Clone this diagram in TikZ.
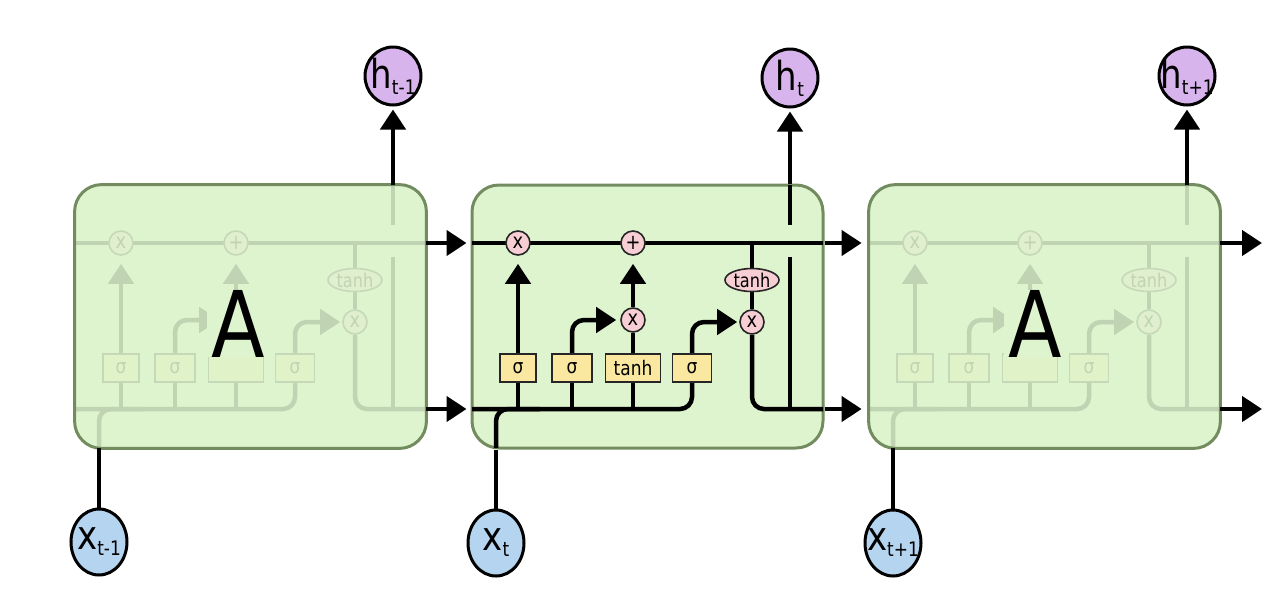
\documentclass[tikz,border=0pt]{standalone}
\usepackage{fontspec}
\setmainfont{DejaVu Sans}[FakeStretch=0.85]
\usetikzlibrary{arrows.meta,shapes.geometric}
\definecolor{cellgreen}{RGB}{221,244,206}
\definecolor{cellborder}{RGB}{115,140,95}
\definecolor{pinkop}{RGB}{247,206,211}
\definecolor{gateyellow}{RGB}{250,232,160}
\definecolor{hpurple}{RGB}{215,180,235}
\definecolor{xblue}{RGB}{180,212,240}
\pgfdeclarelayer{cellbg}
\pgfdeclarelayer{lines}
\pgfdeclarelayer{veil}
\pgfdeclarelayer{front}
\pgfsetlayers{cellbg,lines,main,veil,front}
\newcommand{\lowsub}[1]{{\fontsize{10}{10}\selectfont\raisebox{-3pt}{#1}}}
\tikzset{
  ln/.style={line width=2.25pt},
  arr/.style={-{Triangle[length=10pt,width=12.5pt]}},
  pw/.style={circle, draw=black!85, line width=0.8pt, fill=pinkop, minimum size=12pt, inner sep=0pt, font=\fontsize{10.5}{10}\selectfont},
  pwell/.style={ellipse, draw=black!85, line width=0.8pt, fill=pinkop, minimum width=27pt, minimum height=11.5pt, inner sep=0pt, font=\fontsize{9.5}{10}\selectfont},
  gate/.style={rectangle, draw=black!85, line width=0.8pt, fill=gateyellow, minimum height=14pt, inner sep=0pt, font=\fontsize{10}{10}\selectfont},
  cellbox/.style={rectangle, rounded corners=13.5pt, minimum width=175.5pt, minimum height=131.5pt, inner sep=0pt},
  hnode/.style={ellipse, draw=black, line width=1.5pt, fill=hpurple, minimum width=28pt, minimum height=29pt, inner sep=0pt, font=\fontsize{20}{20}\selectfont},
  xnode/.style={ellipse, draw=black, line width=1.5pt, fill=xblue, minimum width=28pt, minimum height=33pt, inner sep=0pt, font=\fontsize{20}{20}\selectfont},
  bigA/.style={font=\fontsize{46}{46}\selectfont, fill=cellgreen, inner ysep=0pt, inner xsep=2pt, text height=33.5pt, text depth=0pt},
}
% #1 shift, #2 prefix, #3 text of tanh gate, #4 text of input multiply
\newcommand{\lstmcell}[4]{%
\begin{scope}[shift={(#1,0)}]
  \node[pw] (#2f) at (518,243) {\makebox[0pt]{x}};
  \node[pw] (#2a) at (633,243) {\makebox[0pt]{+}};
  \node[pw] (#2i) at (633,320) {\makebox[0pt]{#4}};
  \node[pwell] (#2t) at (752,280) {\makebox[0pt]{tanh}};
  \node[pw] (#2o) at (752,322) {\makebox[0pt]{x}};
  \node[gate, minimum width=18pt] (#2g1) at (518,368) {\makebox[0pt]{σ}};
  \node[gate, minimum width=20pt] (#2g2) at (572,368) {\makebox[0pt]{σ}};
  \node[gate, minimum width=27.5pt] (#2g3) at (633,368) {\makebox[0pt]{#3}};
  \node[gate, minimum width=19.5pt] (#2g4) at (692,368) {\makebox[0pt]{σ}};
  \coordinate (#2cl) at (472,243);
  \coordinate (#2cr) at (823,243);
  \coordinate (#2hl) at (472,409);
  \coordinate (#2hr) at (823,409);
  \coordinate (#2xb) at (496,448);
  \coordinate (#2xj) at (540,409);
  \coordinate (#2hb) at (790,409);
  \coordinate (#2hga) at (790,257);
  \coordinate (#2hgb) at (790,225);
  \coordinate (#2ht) at (790,185);
  \begin{pgfonlayer}{lines}
    \draw[ln] (#2cl) -- (#2cr);
    \draw[ln, rounded corners=6pt] (#2hl) -| (#2g4.south);
    \draw[ln, rounded corners=6pt] (#2xb) |- (#2xj);
    \draw[ln, arr, shorten >=4pt] (#2g1.north) -- (#2f.south);
    \draw[ln] (#2g1.south) -- (#2g1.south |- #2hl);
    \draw[ln] (#2g2.south) -- (#2g2.south |- #2hl);
    \draw[ln] (#2g3.south) -- (#2g3.south |- #2hl);
    \draw[ln, arr, rounded corners=6pt, shorten >=2pt] (#2g2.north) |- (#2i.west);
    \draw[ln] (#2g3.north) -- (#2i.south);
    \draw[ln, arr, shorten >=4pt] (#2i.north) -- (#2a.south);
    \draw[ln, arr, rounded corners=6pt, shorten >=1pt] (#2g4.north) |- (#2o.west);
    \draw[ln] (#2t.north |- #2cl) -- (#2t.north);
    \draw[ln] (#2t.south) -- (#2o.north);
    \draw[ln, rounded corners=6pt] (#2o.south) |- (#2hr);
    \draw[ln] (#2hb) -- (#2hga);
    \draw[ln] (#2hgb) -- (#2ht);
  \end{pgfonlayer}
\end{scope}}
\begin{document}
\begin{tikzpicture}[x=0.5pt, y=-0.5pt]
\useasboundingbox (0,0) rectangle (1275,596);
\begin{pgfonlayer}{cellbg}
  \node[cellbox, fill=cellgreen] (c1) at (250.5,316.5) {};
  \node[cellbox, fill=cellgreen, draw=cellborder, line width=1.5pt] (c2) at (647.5,316.5) {};
  \node[cellbox, fill=cellgreen] (c3) at (1044.5,316.5) {};
\end{pgfonlayer}
\lstmcell{-397}{p}{}{}
\lstmcell{0}{q}{tanh}{x}
\lstmcell{397}{r}{}{}
\begin{pgfonlayer}{veil}
  \fill[cellgreen, opacity=0.87, rounded corners=13.5pt] (c1.south west) rectangle (c1.north east);
  \fill[cellgreen, opacity=0.87, rounded corners=13.5pt] (c3.south west) rectangle (c3.north east);
  \draw[cellborder, line width=1.5pt, rounded corners=13.5pt] (c1.south west) rectangle (c1.north east);
  \draw[cellborder, line width=1.5pt, rounded corners=13.5pt] (c3.south west) rectangle (c3.north east);
  \node[bigA] (A1) at (238,323.5) {A};
  \node[bigA] (A3) at (1035,323.5) {A};
\end{pgfonlayer}
\begin{pgfonlayer}{front}
  \node[hnode] (h1) at (393,76) {\makebox[0pt]{h\lowsub{t-1}}};
  \node[hnode] (h2) at (790,78) {\makebox[0pt]{h\lowsub{t}}};
  \node[hnode] (h3) at (1187,76) {\makebox[0pt]{h\lowsub{t+1}}};
  \node[xnode] (x1) at (99,542) {\makebox[0pt]{x\lowsub{t-1}}};
  \node[xnode] (x2) at (496,543) {\makebox[0pt]{x\lowsub{t}}};
  \node[xnode] (x3) at (893,543) {\makebox[0pt]{x\lowsub{t+1}}};
  \coordinate (outc) at (1262,243);
  \coordinate (outh) at (1262,409);
  \draw[ln, arr, shorten >=1.5pt] (h1 |- c1.north) -- (h1.south);
  \draw[ln, arr, shorten >=1.5pt] (h2 |- c2.north) -- (h2.south);
  \draw[ln, arr, shorten >=1.5pt] (h3 |- c3.north) -- (h3.south);
  \draw[ln] (x1.north) -- (x1 |- c1.south);
  \draw[ln] (x2.north) -- (x2 |- c2.south);
  \draw[ln] (x3.north) -- (x3 |- c3.south);
  \draw[ln, arr, shorten >=2pt] (c1.east |- pcl) -- (c2.west |- pcl);
  \draw[ln, arr, shorten >=2pt] (c1.east |- phl) -- (c2.west |- phl);
  \draw[ln, arr, shorten >=3.5pt] (c2.east |- qcl) -- (c3.west |- qcl);
  \draw[ln, arr, shorten >=3.5pt] (c2.east |- qhl) -- (c3.west |- qhl);
  \draw[ln, arr] (c3.east |- rcl) -- (outc);
  \draw[ln, arr] (c3.east |- rhl) -- (outh);
\end{pgfonlayer}
\end{tikzpicture}
\end{document}
